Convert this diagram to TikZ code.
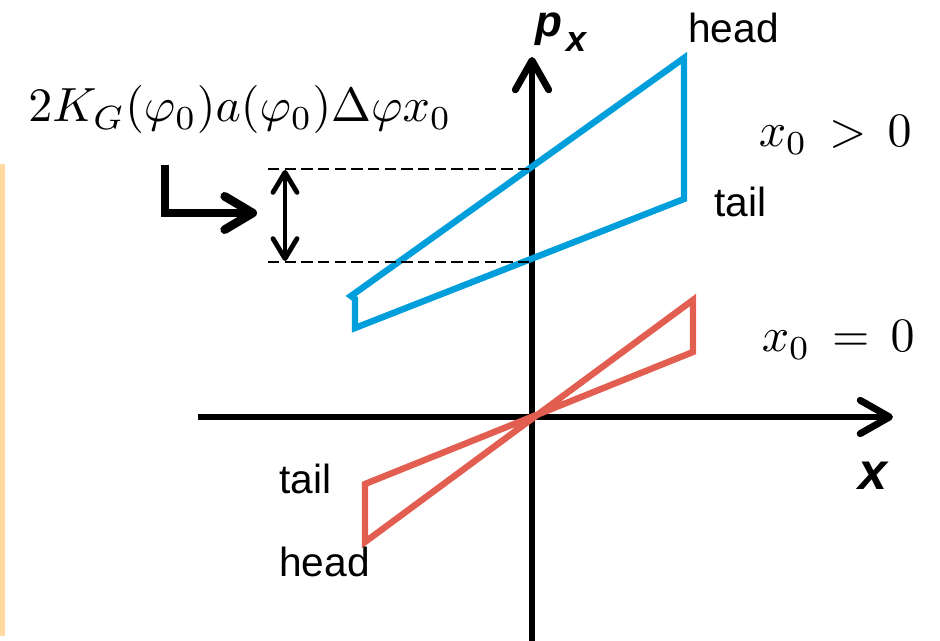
\documentclass[tikz,border=0pt]{standalone}
\usepackage{fontspec}
\newfontfamily\arial{Liberation Sans}
\usetikzlibrary{arrows.meta}
\definecolor{cblue}{HTML}{009FDB}
\definecolor{cred}{HTML}{E25E50}
\definecolor{corange}{HTML}{FFD9A0}
\tikzset{
  lbl/.style={inner sep=0pt, anchor=base west, font=\arial\fontsize{30.5}{32}\selectfont},
  mth/.style={inner sep=0pt},
  axis/.style={line width=5.2pt, -{Straight Barb[length=22pt,width=25pt,round]}},
  loopb/.style={cblue, line width=4.8pt, line join=miter},
  loopr/.style={cred, line width=4.8pt, line join=miter},
  guide/.style={line width=2.2pt, dash pattern=on 8.5pt off 4pt},
}
\newcommand{\mybigmath}[1]{\scalebox{3.6}{#1}}
\begin{document}
\begin{tikzpicture}[x=0.75pt,y=-0.75pt]
\useasboundingbox (0,0) rectangle (940,641);
% left orange bar
\fill[corange] (0,164) rectangle (5,636);
% axes
\coordinate (ybot) at (532,641);
\coordinate (ytop) at (532,57);
\coordinate (xleft) at (198,417);
\coordinate (xright) at (893,417);
\draw[axis] (ybot) -- (ytop);
\draw[axis] (xleft) -- (xright);
% blue loop
\coordinate (b1) at (355,328);
\coordinate (b2) at (355,299);
\coordinate (b3) at (351,296);
\coordinate (bh) at (684,58);
\coordinate (bt) at (684,199);
\draw[loopb] (b1) -- (b2) -- (b3) -- (bh) -- (bt) -- cycle;
% red loop
\coordinate (r1) at (365,542);
\coordinate (r2) at (365,484);
\coordinate (rh) at (693,300);
\coordinate (rt) at (693,352);
\draw[loopr] (r1) -- (rh) -- (rt) -- (r2) -- cycle;
% dashed guides
\coordinate (d1l) at (268,169);
\coordinate (d1r) at (532,169);
\coordinate (d2l) at (268,262);
\coordinate (d2r) at (532,262);
\draw[guide] (d1l) -- (d1r);
\draw[guide] (d2l) -- (d2r);
% double arrow
\coordinate (da) at (285,170);
\coordinate (db) at (285,261);
\draw[line width=3.6pt, {Straight Barb[length=15pt,width=18pt,round]}-{Straight Barb[length=15pt,width=18pt,round]}] (da) -- (db);
% L arrow
\coordinate (l1) at (165,165);
\coordinate (l2) at (165,213);
\coordinate (l3) at (257,213);
\draw[line width=6.5pt, line join=miter, -{Straight Barb[length=21pt,width=25pt,round]}] (l1) -- (l2) -- (l3);
% labels
\node[mth, anchor=base west] (form) at (28,122) {\mybigmath{$2K_G(\varphi_0)a(\varphi_0)\Delta\varphi x_0$}};
\node[mth, anchor=base east] (xpos) at (912,147) {\mybigmath{$x_0\,>\,0$}};
\node[mth, anchor=base east] (xzero) at (915,352) {\mybigmath{$x_0\,=\,0$}};
\node[lbl] (headb) at (688,43) {head};
\node[lbl] (tailb) at (714,217) {tail};
\node[lbl] (tailr) at (279,494) {tail};
\node[lbl] (headr) at (279,577) {head};
\node[inner sep=0pt, anchor=base west, font=\arial\bfseries\itshape\fontsize{33}{34}\selectfont] (plab) at (535,37) {p};
\node[inner sep=0pt, anchor=base west, font=\arial\bfseries\itshape\fontsize{27}{28}\selectfont] (psub) at (566,52) {x};
\node[inner sep=0pt, anchor=base west, font=\arial\bfseries\itshape\fontsize{39}{40}\selectfont] (xlab) at (858,490) {x};
\end{tikzpicture}
\end{document}
